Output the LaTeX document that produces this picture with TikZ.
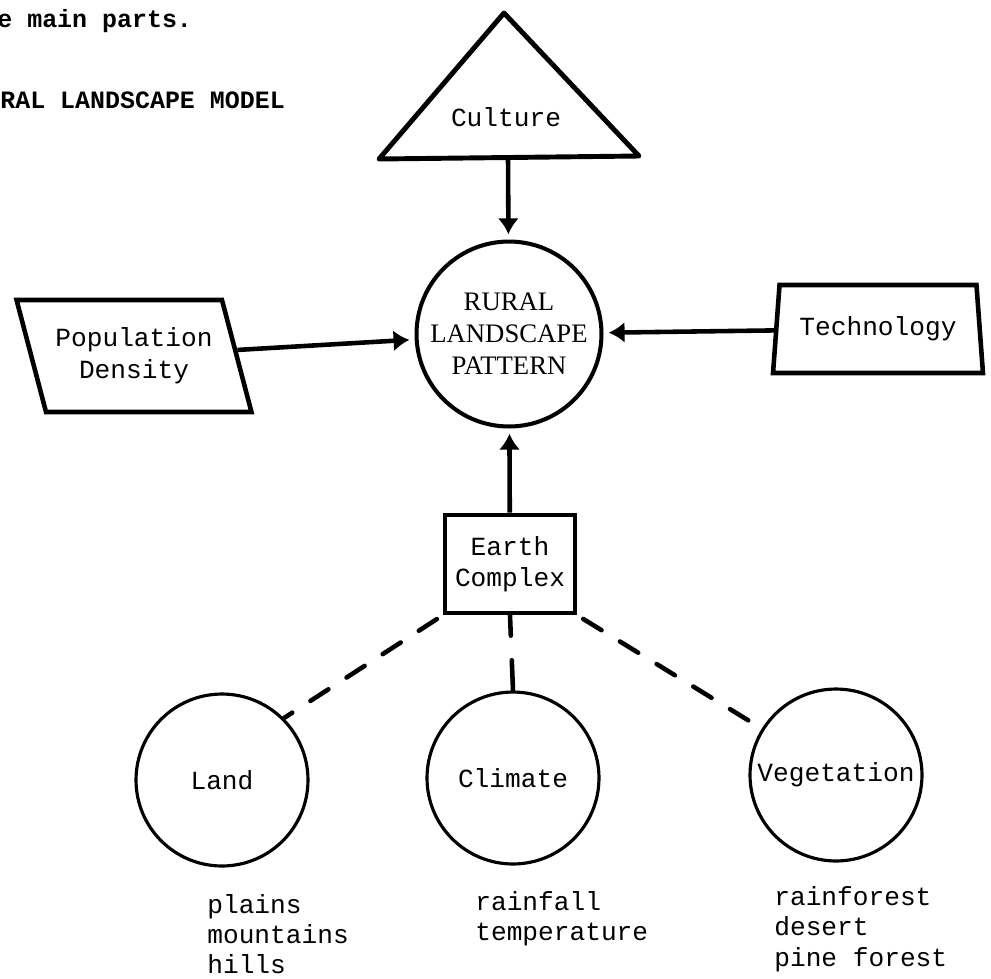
\documentclass[tikz,border=0pt]{standalone}
\usepackage{fontspec}
\setmainfont{Liberation Serif}
\setmonofont{Liberation Mono}
\usetikzlibrary{shapes.geometric,arrows.meta}

\begin{document}
\begin{tikzpicture}[
    x=0.02cm, y=-0.02cm,
    font=\ttfamily\fontsize{14.9}{18.2}\selectfont,
    % --- node styles ---
    hub/.style = {circle, draw, line width=2.3pt, minimum size=3.7cm,
                  inner sep=0pt, align=center,
                  font=\rmfamily\fontsize{15.2}{18.2}\selectfont},
    factorbox/.style = {trapezium, draw, line width=2.6pt,
                        trapezium stretches=true, align=center,
                        inner sep=0pt},
    earthbox/.style = {rectangle, draw, line width=2.6pt,
                       minimum width=2.6cm, minimum height=1.96cm,
                       align=center, font=\ttfamily\fontsize{14.9}{17.6}\selectfont},
    partcircle/.style = {circle, draw, line width=1.8pt,
                         minimum size=3.44cm, inner sep=0pt},
    listitem/.style = {anchor=base west, inner sep=0pt},
    headline/.style = {anchor=base west, inner sep=0pt,
                       font=\ttfamily\bfseries\fontsize{14.2}{17}\selectfont},
    arrow/.style  = {-{Latex[length=9pt,width=12pt]}, line width=2.6pt,
                     shorten >=3pt},
    dline/.style  = {line width=2.6pt, line cap=round,
                     dash pattern=on 12.2pt off 12.3pt},
]
\useasboundingbox (0,0) rectangle (991,978);

%============ HEADINGS ============
\node (headA) [headline] at (-3,27) {e main parts.};
\node (headB) [headline] at (0,108) {RAL LANDSCAPE MODEL};

%============ CENTRE ============
\node (rural) [hub] at (509,334) {RURAL\\LANDSCAPE\\PATTERN};

%============ CULTURE ============
\draw[line width=2.8pt, line join=round]
  (504,13) -- (639,156) -- (379,159) -- cycle;
\node (culture) at (506,117) {Culture};
\coordinate (cultbase) at (508,158);
\draw[arrow] (cultbase) -- (rural);

%============ SIDE FACTORS ============
\node (popdens) [factorbox, trapezium left angle=115, trapezium right angle=65,
                 minimum width=4.7cm, minimum height=2.24cm] at (134,356)
  {Population\\Density};
\node (tech) [factorbox, trapezium left angle=78, trapezium right angle=78,
              minimum width=4.24cm, minimum height=1.76cm] at (878,329)
  {Technology};

\foreach \f in {popdens,tech}
  \draw[arrow] (\f) -- (rural);

%============ EARTH COMPLEX ============
\node (earth) [earthbox] at (510,564) {Earth\\Complex};
\draw[arrow] (earth) -- (rural);

%============ PARTS ============
\node (land) [partcircle] at (222,780) {Land};
\node (climate) [partcircle] at (513,778) {Climate};
\node (veg) [partcircle] at (836,775) {Vegetation};

% Dashed links to the earth complex
\draw[dline, shorten <=4pt] (earth.south west) -- (land.45);
\draw[dline, shorten <=4pt] (earth.south east) -- (veg.148);
\draw[line width=2.6pt, line cap=round, dash pattern=on 11.6pt off 14pt on 30pt]
  (earth.south) -- (climate.north);

%============ EXAMPLES ============
\foreach \t [count=\i] in {plains,mountains,hills}
  \node (landitem\i) [listitem] at (207,{913+30*(\i-1)}) {\t};
\foreach \t [count=\i] in {rainfall,temperature}
  \node (climitem\i) [listitem] at (475,{910+30*(\i-1)}) {\t};
\foreach \t [count=\i] in {rainforest,desert,pine forest}
  \node (vegitem\i) [listitem] at (774,{905+30.5*(\i-1)}) {\t};

\end{tikzpicture}
\end{document}
